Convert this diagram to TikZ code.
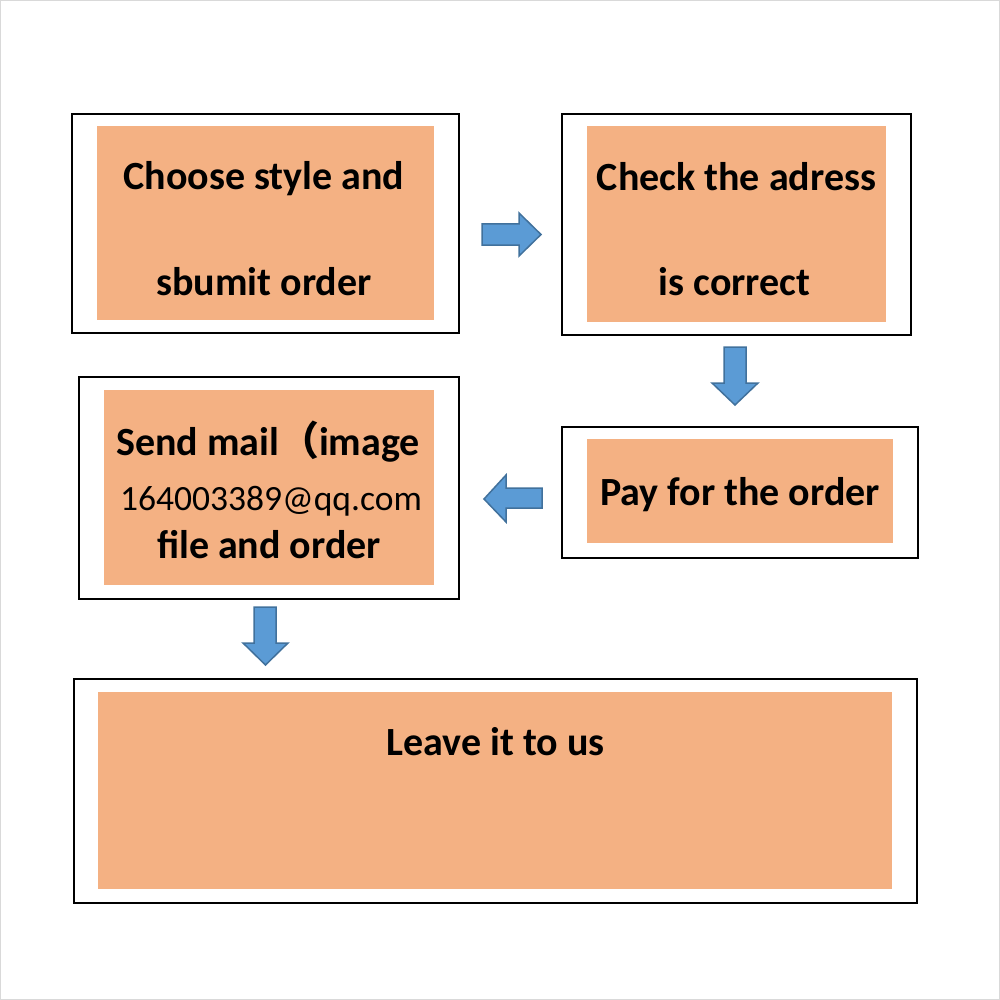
\documentclass[tikz,border=0pt]{standalone}
\usepackage{fontspec}
\setmainfont{Carlito}
\newfontfamily\cjk{Noto Sans CJK SC}
\definecolor{boxorange}{HTML}{F4B183}
\definecolor{arrowblue}{HTML}{5B9BD5}
\definecolor{arrowline}{HTML}{41719C}
\tikzset{
	outerbox/.style={draw=black,line width=2pt,fill=white,inner sep=0pt},
	fillbox/.style={fill=boxorange,inner sep=0pt},
	steptext/.style={font=\fontsize{40}{48}\selectfont\bfseries,anchor=base,inner sep=0pt},
	mailtext/.style={font=\fontsize{35.5}{42}\selectfont,anchor=base,inner sep=0pt},
	blockarrow/.style={fill=arrowblue,draw=arrowline,line width=1.5pt,line join=miter}
}
\begin{document}
\begin{tikzpicture}[x=1pt,y=-1pt]
			\useasboundingbox (0,0) rectangle (1000,1000);
			\draw[gray!30,line width=2pt] (0,0) rectangle (1000,1000);
			\node[outerbox,minimum width=387,minimum height=219] (chooseOuter) at (265.5,223.5) {};
			\node[fillbox,minimum width=337,minimum height=194] (choose) at (265.5,223) {};
			\node[steptext] (chooseA) at (264,190) {Choose style and};
			\node[steptext] (chooseB) at (264,295) {sbumit order};
			\node[outerbox,minimum width=349,minimum height=221] (checkOuter) at (736.5,224.5) {};
			\node[fillbox,minimum width=299,minimum height=196] (check) at (736.5,224) {};
			\node[steptext] (checkA) at (736.5,191) {Check the adress};
			\node[steptext] (checkB) at (734.5,295) {is correct};
			\node[outerbox,minimum width=356,minimum height=131] (payOuter) at (740,492.5) {};
			\node[fillbox,minimum width=306,minimum height=104] (pay) at (740,491) {};
			\node[steptext] (payA) at (740,505) {Pay for the order};
			\node[outerbox,minimum width=380,minimum height=222] (sendOuter) at (269,488) {};
			\node[fillbox,minimum width=330,minimum height=195] (send) at (269,487.5) {};
			\node[steptext] (sendA) at (268,455) {Send mail{\cjk （}image};
			\node[mailtext] (sendB) at (271,510) {164003389@qq.com};
			\node[steptext] (sendC) at (269,558) {file and order};
			\node[outerbox,minimum width=843,minimum height=224] (leaveOuter) at (495.5,791) {};
			\node[fillbox,minimum width=794,minimum height=197] (leave) at (495,790.5) {};
			\node[steptext] (leaveA) at (495.5,755) {Leave it to us};
			\filldraw[blockarrow] (482,224)--(519,224)--(519,213)--(541,234.5)--(519,256)--(519,245)--(482,245)--cycle;
			\filldraw[blockarrow] (724,347)--(746,347)--(746,383)--(758,383)--(735,405)--(712,383)--(724,383)--cycle;
			\filldraw[blockarrow] (542,488)--(506,488)--(506,475)--(484,499)--(506,522)--(506,508)--(542,508)--cycle;
			\filldraw[blockarrow] (254,607)--(276,607)--(276,643)--(288,643)--(265.5,665)--(243,643)--(254,643)--cycle;
		\end{tikzpicture}
\end{document}
